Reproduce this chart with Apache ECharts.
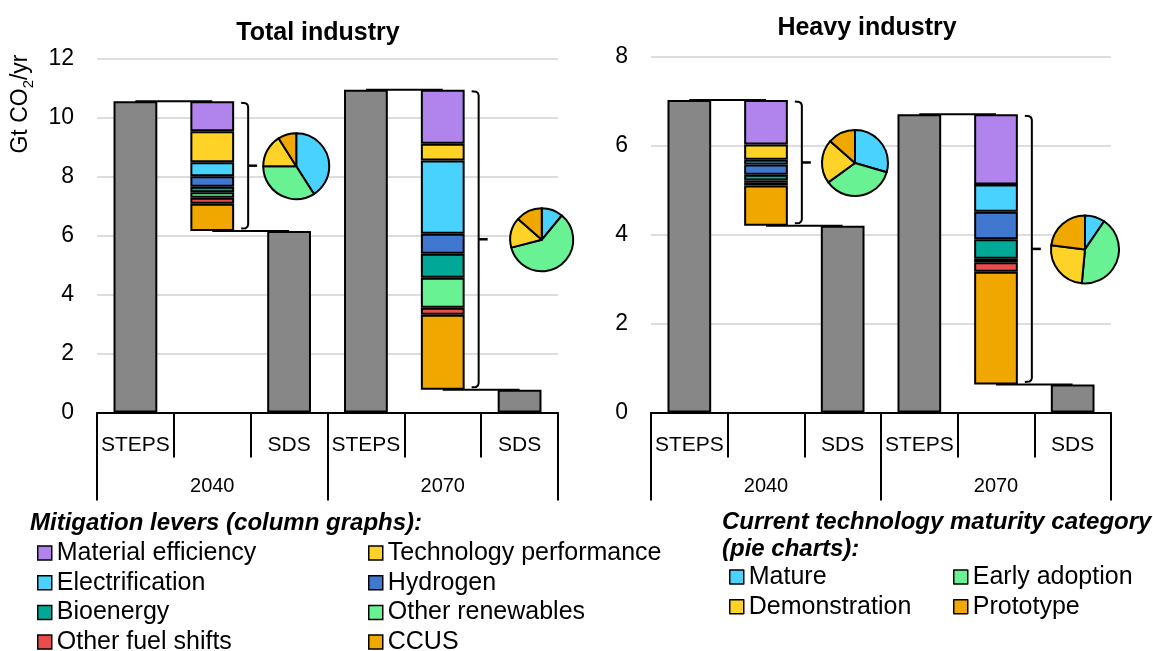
<!DOCTYPE html>
<html>
<head>
<meta charset="utf-8">
<script src="https://cdn.jsdelivr.net/npm/echarts@6/dist/echarts.min.js"></script>
<style>
  html, body { margin: 0; padding: 0; background: #fff; }
  #chart { width: 1153px; height: 651px; }
</style>
</head>
<body>
<div id="chart"></div>
<script>
// ---- Data -------------------------------------------------------------
// Category slots on each panel: STEPS column, lever column, SDS column (per year)
const slots = ['STEPS', '', 'SDS', 'STEPS', '', 'SDS'];
const years = ['2040', '2070'];
const panelTitles = ['Total industry', 'Heavy industry'];
const yMax = [12, 8];

// Direct CO2 emissions, Gt CO2/yr, [2040, 2070]
const stepsTotal = [10.55, 10.94];
const sdsTotal = [6.15, 0.77];
const stepsHeavy = [7.03, 6.71];
const sdsHeavy = [4.20, 0.63];

// Mitigation levers, stacked from the SDS level up to STEPS (bottom -> top)
const levers = ['CCUS', 'Other fuel shifts', 'Other renewables', 'Bioenergy',
  'Hydrogen', 'Electrification', 'Technology performance', 'Material efficiency'];
const leversTotal2040 = [0.93, 0.20, 0.19, 0.18, 0.36, 0.47, 1.05, 1.02];
const leversTotal2070 = [2.54, 0.24, 1.02, 0.81, 0.68, 2.48, 0.57, 1.83];
const leversHeavy2040 = [0.91, 0.06, 0.05, 0.13, 0.23, 0.11, 0.34, 1.00];
const leversHeavy2070 = [2.54, 0.21, 0.08, 0.44, 0.62, 0.61, 0.00, 1.58];

// Current technology maturity of the abatement (shares, %)
const maturity = ['Mature', 'Early adoption', 'Demonstration', 'Prototype'];
const pieTotal2040 = [41, 34, 16, 9];
const pieTotal2070 = [11, 60, 15.5, 13.5];
const pieHeavy2040 = [29.5, 35.5, 21.5, 13.5];
const pieHeavy2070 = [9.5, 42, 25.5, 23];

// ---- Styling ----------------------------------------------------------
const FONT = "'Liberation Sans', Arial, Helvetica, sans-serif";
const leverColors = {
  'Material efficiency': '#B084EC',
  'Technology performance': '#FFD228',
  'Electrification': '#4AD2FF',
  'Hydrogen': '#4078D0',
  'Bioenergy': '#00A898',
  'Other renewables': '#68F294',
  'Other fuel shifts': '#E84C4C',
  'CCUS': '#F0A800'
};
const maturityColors = ['#4AD2FF', '#68F294', '#FFD228', '#F0A800'];
const GREY = '#878787';
const BAR_W = 0.57;                 // bar width as share of a category slot
const grids = [
  { left: 97, top: 58.5, width: 461, height: 354 },
  { left: 651, top: 57, width: 460, height: 355.5 }
];
const titlePos = [[318, 33], [867, 28]];
// pie placement relative to the lever column: horizontal shift (px) and radius (px)
const pieShift = [[84, 99], [89, 89]];
const pieRadius = [[33, 31.5], [33, 34]];

const panels = [
  { steps: stepsTotal, sds: sdsTotal, lev: [leversTotal2040, leversTotal2070], pie: [pieTotal2040, pieTotal2070] },
  { steps: stepsHeavy, sds: sdsHeavy, lev: [leversHeavy2040, leversHeavy2070], pie: [pieHeavy2040, pieHeavy2070] }
];

function renderBracket(params, api) {
  const cat = api.value(0);
  const lo = api.coord([cat, api.value(1)]);
  const hi = api.coord([cat, api.value(2)]);
  const slot = api.size([1, 0])[0];
  const x = lo[0] + slot * BAR_W / 2 + 14;
  const top = hi[1] + 1.5, bot = lo[1] - 2.5, mid = (top + bot) / 2;
  const hook = 7;
  return {
    type: 'group',
    children: [
      {
        type: 'polyline',
        shape: { points: [[x - hook, top], [x - 2.5, top + 0.4], [x - 0.7, top + 1.8], [x, top + 4],
                          [x, bot - 4], [x - 0.7, bot - 1.8], [x - 2.5, bot - 0.4], [x - hook, bot]] },
        style: { stroke: '#000', lineWidth: 2, fill: null, lineJoin: 'round' }
      },
      {
        type: 'line',
        shape: { x1: x, y1: mid, x2: x + 9, y2: mid },
        style: { stroke: '#000', lineWidth: 2.5 }
      }
    ]
  };
}

function buildSeries(pieCenters) {
  const series = [];
  panels.forEach((p, gi) => {
    const xi = gi * 2, yi = gi;
    const stack = 'wf' + gi;
    series.push({
      type: 'bar', xAxisIndex: xi, yAxisIndex: yi, stack, barWidth: (BAR_W * 100) + '%',
      name: 'scenario' + gi,
      data: [p.steps[0], null, p.sds[0], p.steps[1], null, p.sds[1]],
      itemStyle: { color: GREY, borderColor: '#000', borderWidth: 2 }
    });
    series.push({
      type: 'bar', xAxisIndex: xi, yAxisIndex: yi, stack, barWidth: (BAR_W * 100) + '%',
      name: 'base' + gi,
      data: [null, p.sds[0], null, null, p.sds[1], null],
      itemStyle: { color: 'rgba(0,0,0,0)', borderWidth: 0 }
    });
    levers.forEach((name, li) => {
      series.push({
        type: 'bar', xAxisIndex: xi, yAxisIndex: yi, stack, barWidth: (BAR_W * 100) + '%',
        name,
        data: [null, p.lev[0][li], null, null, p.lev[1][li], null],
        itemStyle: { color: leverColors[name], borderColor: '#000', borderWidth: 2 }
      });
    });
    // waterfall connectors
    series.push({
      type: 'line', xAxisIndex: xi, yAxisIndex: yi, name: 'top' + gi, symbol: 'none',
      data: [p.steps[0], p.steps[0], null, p.steps[1], p.steps[1], null],
      lineStyle: { color: '#000', width: 2 }, z: 3
    });
    series.push({
      type: 'line', xAxisIndex: xi, yAxisIndex: yi, name: 'bottom' + gi, symbol: 'none',
      data: [null, p.sds[0], p.sds[0], null, p.sds[1], p.sds[1]],
      lineStyle: { color: '#000', width: 2 }, z: 3
    });
    series.push({
      type: 'custom', xAxisIndex: xi, yAxisIndex: yi, name: 'bracket' + gi,
      renderItem: renderBracket,
      data: [[1, p.sds[0], p.steps[0]], [4, p.sds[1], p.steps[1]]],
      z: 4
    });
    [0, 1].forEach(k => {
      series.push({
        type: 'pie', id: 'pie' + gi + k, silent: true,
        center: pieCenters ? pieCenters[gi][k] : [-200, -200],
        radius: pieRadius[gi][k], startAngle: 90, clockwise: true,
        label: { show: false }, labelLine: { show: false },
        itemStyle: { borderColor: '#000', borderWidth: 2 },
        data: maturity.map((n, i) => ({ name: n, value: p.pie[k][i], itemStyle: { color: maturityColors[i] } })),
        z: 5
      });
    });
  });
  return series;
}

const xAxes = [], yAxes = [];
grids.forEach((g, gi) => {
  xAxes.push({
    type: 'category', gridIndex: gi, data: slots, position: 'bottom',
    axisLine: { show: true, lineStyle: { color: '#000', width: 2 } },
    axisTick: { show: true, interval: 0, length: 45, lineStyle: { color: '#000', width: 2 } },
    axisLabel: { interval: 0, margin: 22, color: '#000', fontSize: 21, fontFamily: FONT },
    splitLine: { show: false }
  });
  xAxes.push({
    type: 'category', gridIndex: gi, data: years, position: 'bottom',
    axisLine: { show: false },
    axisTick: { show: true, interval: 0, length: 88, lineStyle: { color: '#000', width: 2 } },
    axisLabel: { interval: 0, margin: 64, color: '#000', fontSize: 20, fontFamily: FONT },
    splitLine: { show: false }
  });
  yAxes.push({
    type: 'value', gridIndex: gi, min: 0, max: yMax[gi], interval: 2,
    axisLine: { show: false }, axisTick: { show: false },
    axisLabel: { margin: 23, color: '#000', fontSize: 23, fontFamily: FONT },
    splitLine: { show: true, lineStyle: { color: '#DDDDDD', width: 2 } }
  });
});

const legendBase = {
  orient: 'vertical', selectedMode: false, icon: 'rect', padding: 0, height: 160,
  itemWidth: 14, itemHeight: 14, itemGap: 4.7, itemStyle: { borderColor: '#000', borderWidth: 1.5 },
  textStyle: { color: '#000', fontSize: 25, fontFamily: FONT, lineHeight: 25 }
};

const graphics = [];
grids.forEach((g, gi) => {
  graphics.push({
    type: 'text', x: titlePos[gi][0], y: titlePos[gi][1],
    style: { text: panelTitles[gi], fill: '#000', fontSize: 25, fontWeight: 'bold', fontFamily: FONT,
             align: 'center', verticalAlign: 'middle' }
  });
});
graphics.push({
  type: 'text', x: 19, y: 104, rotation: Math.PI / 2,
  style: {
    text: '{n|Gt CO}{s|2}{n|/yr}', align: 'center', verticalAlign: 'middle',
    rich: {
      n: { fontSize: 23, fontFamily: FONT, fill: '#000', lineHeight: 26, verticalAlign: 'bottom' },
      s: { fontSize: 15, fontFamily: FONT, fill: '#000', lineHeight: 26, verticalAlign: 'bottom', padding: [0, 0, -4, 0] }
    }
  }
});
graphics.push({
  type: 'text', x: 30, y: 523,
  style: { text: 'Mitigation levers (column graphs):', fill: '#000', fontSize: 24, fontWeight: 'bold',
           fontStyle: 'italic', fontFamily: FONT, verticalAlign: 'middle' }
});
graphics.push({
  type: 'text', x: 722, y: 522,
  style: { text: 'Current technology maturity category', fill: '#000', fontSize: 24, fontWeight: 'bold',
           fontStyle: 'italic', fontFamily: FONT, verticalAlign: 'middle' }
});
graphics.push({
  type: 'text', x: 722, y: 549,
  style: { text: '(pie charts):', fill: '#000', fontSize: 24, fontWeight: 'bold',
           fontStyle: 'italic', fontFamily: FONT, verticalAlign: 'middle' }
});

const option = {
  animation: false,
  backgroundColor: '#fff',
  grid: grids.map(g => Object.assign({ containLabel: false }, g)),
  xAxis: xAxes,
  yAxis: yAxes,
  legend: [
    Object.assign({}, legendBase, { left: 37, top: 540.5, data: ['Material efficiency', 'Electrification', 'Bioenergy', 'Other fuel shifts'] }),
    Object.assign({}, legendBase, { left: 368, top: 540.5, data: ['Technology performance', 'Hydrogen', 'Other renewables', 'CCUS'] }),
    Object.assign({}, legendBase, { left: 729, top: 564.5, data: ['Mature', 'Demonstration'] }),
    Object.assign({}, legendBase, { left: 953, top: 564.5, data: ['Early adoption', 'Prototype'] })
  ],
  graphic: graphics,
  series: buildSeries(null)
};

const chart = echarts.init(document.getElementById('chart'));
chart.setOption(option);

// place each maturity pie beside its lever column, centred on the column's span
const centers = panels.map((p, gi) => [0, 1].map(k => {
  const cat = k === 0 ? 1 : 4;
  const mid = (p.sds[k] + p.steps[k]) / 2;
  const pt = chart.convertToPixel({ xAxisIndex: gi * 2, yAxisIndex: gi }, [cat, mid]);
  return [pt[0] + pieShift[gi][k], pt[1]];
}));
chart.setOption({ series: buildSeries(centers) });
</script>
</body>
</html>
